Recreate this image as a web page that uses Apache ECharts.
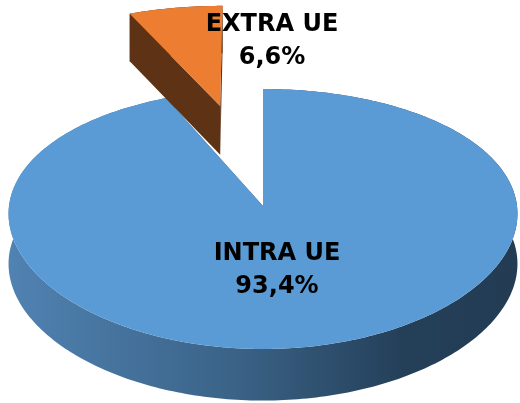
<!DOCTYPE html>
<html>
<head>
<meta charset="utf-8">
<script src="https://cdn.jsdelivr.net/npm/echarts@6/dist/echarts.min.js"></script>
<style>
    html, body { margin: 0; padding: 0; background: #fff; }
    #main { width: 520px; height: 403px; }
</style>
</head>
<body>
<div id="main"></div>
<script>
// data
const names = ['INTRA UE', 'EXTRA UE'];
const values = [93.4, 6.6];
const explode = [0, 0.86];            // radial offset, in radii

// look of the 3d pie
const topColors = ['#5b9bd5', '#ed7d31'];
const radialColors = ['#2b4a66', '#5e3214'];
const labelPos = [[277, 270], [272, 41]];
const cam = { cx: 263, cy: 206, rx: 254, ry: 128.7, depth: 50, perspY: 0.1, perspX: 0.06, perspD: 0.03 };

const total = values.reduce((a, b) => a + b, 0);
const cum = [];
values.reduce((acc, v, i) => { cum[i] = acc; return acc + v; }, 0);

// X right, Z away from viewer, Y up (0 = top face, -1 = bottom)
function proj(X, Z, Y) {
    let sx = 1 / (1 + cam.perspX * Z);
    let sy = 1 / (1 + cam.perspY * Z);
    let sd = 1 / (1 + cam.perspD * Z);
    return [cam.cx + cam.rx * X * sx, cam.cy - cam.ry * Z * sy - cam.depth * Y * sd];
}

function fmt(v) {
    return (v / total * 100).toFixed(1).replace('.', ',') + '%';
}

let wallGrad = new echarts.graphic.LinearGradient(10, 0, 517, 0, [
    { offset: 0, color: '#5082b2' },
    { offset: 0.45, color: '#3a6286' },
    { offset: 0.78, color: '#243f58' },
    { offset: 1, color: '#233c54' }
], true);
let sideColors = [wallGrad, '#5e3214'];

function renderSlice(params, api) {
    let i = params.dataIndex;
    let v = api.value(0);
    // clockwise from 12 o'clock
    let a0 = (90 - cum[i] / total * 360) * Math.PI / 180;
    let a1 = a0 - v / total * 360 * Math.PI / 180;
    let mid = (a0 + a1) / 2;
    let ex = explode[i] * Math.cos(mid);
    let ez = explode[i] * Math.sin(mid);
    let P = (r, t, y) => proj(ex + r * Math.cos(t), ez + r * Math.sin(t), y);

    let n = Math.max(2, Math.ceil(Math.abs(a1 - a0) / (Math.PI / 180)));
    let topArc = [], botArc = [];
    for (let k = 0; k <= n; k++) {
        let t = a0 + (a1 - a0) * k / n;
        topArc.push(P(1, t, 0));
        botArc.push(P(1, t, -1));
    }
    let base = i * 10;
    let children = [];

    children.push({
        type: 'polygon', z2: base,
        shape: { points: topArc.concat(botArc.slice().reverse()) },
        style: { fill: sideColors[i] }
    });
    [a0, a1].forEach(t => {
        children.push({
            type: 'polygon', z2: base + 1,
            shape: { points: [P(0, t, 0), P(1, t, 0), P(1, t, -1), P(0, t, -1)] },
            style: { fill: radialColors[i] }
        });
    });
    children.push({
        type: 'polygon', z2: base + 2,
        shape: { points: [P(0, 0, 0)].concat(topArc) },
        style: { fill: topColors[i] }
    });
    children.push({
        type: 'text', z2: 1000,
        style: {
            x: labelPos[i][0], y: labelPos[i][1],
            text: names[i] + '\n' + fmt(v),
            fill: '#000',
            font: 'bold 24px "DejaVu Sans"',
            lineHeight: 33,
            align: 'center',
            verticalAlign: 'middle'
        }
    });
    return { type: 'group', children: children };
}

let chart = echarts.init(document.getElementById('main'));
chart.setOption({
    animation: false,
    series: [{
        type: 'custom',
        coordinateSystem: 'none',
        silent: true,
        renderItem: renderSlice,
        data: values.map((v, i) => ({ name: names[i], value: [v] }))
    }]
});
</script>
</body>
</html>
